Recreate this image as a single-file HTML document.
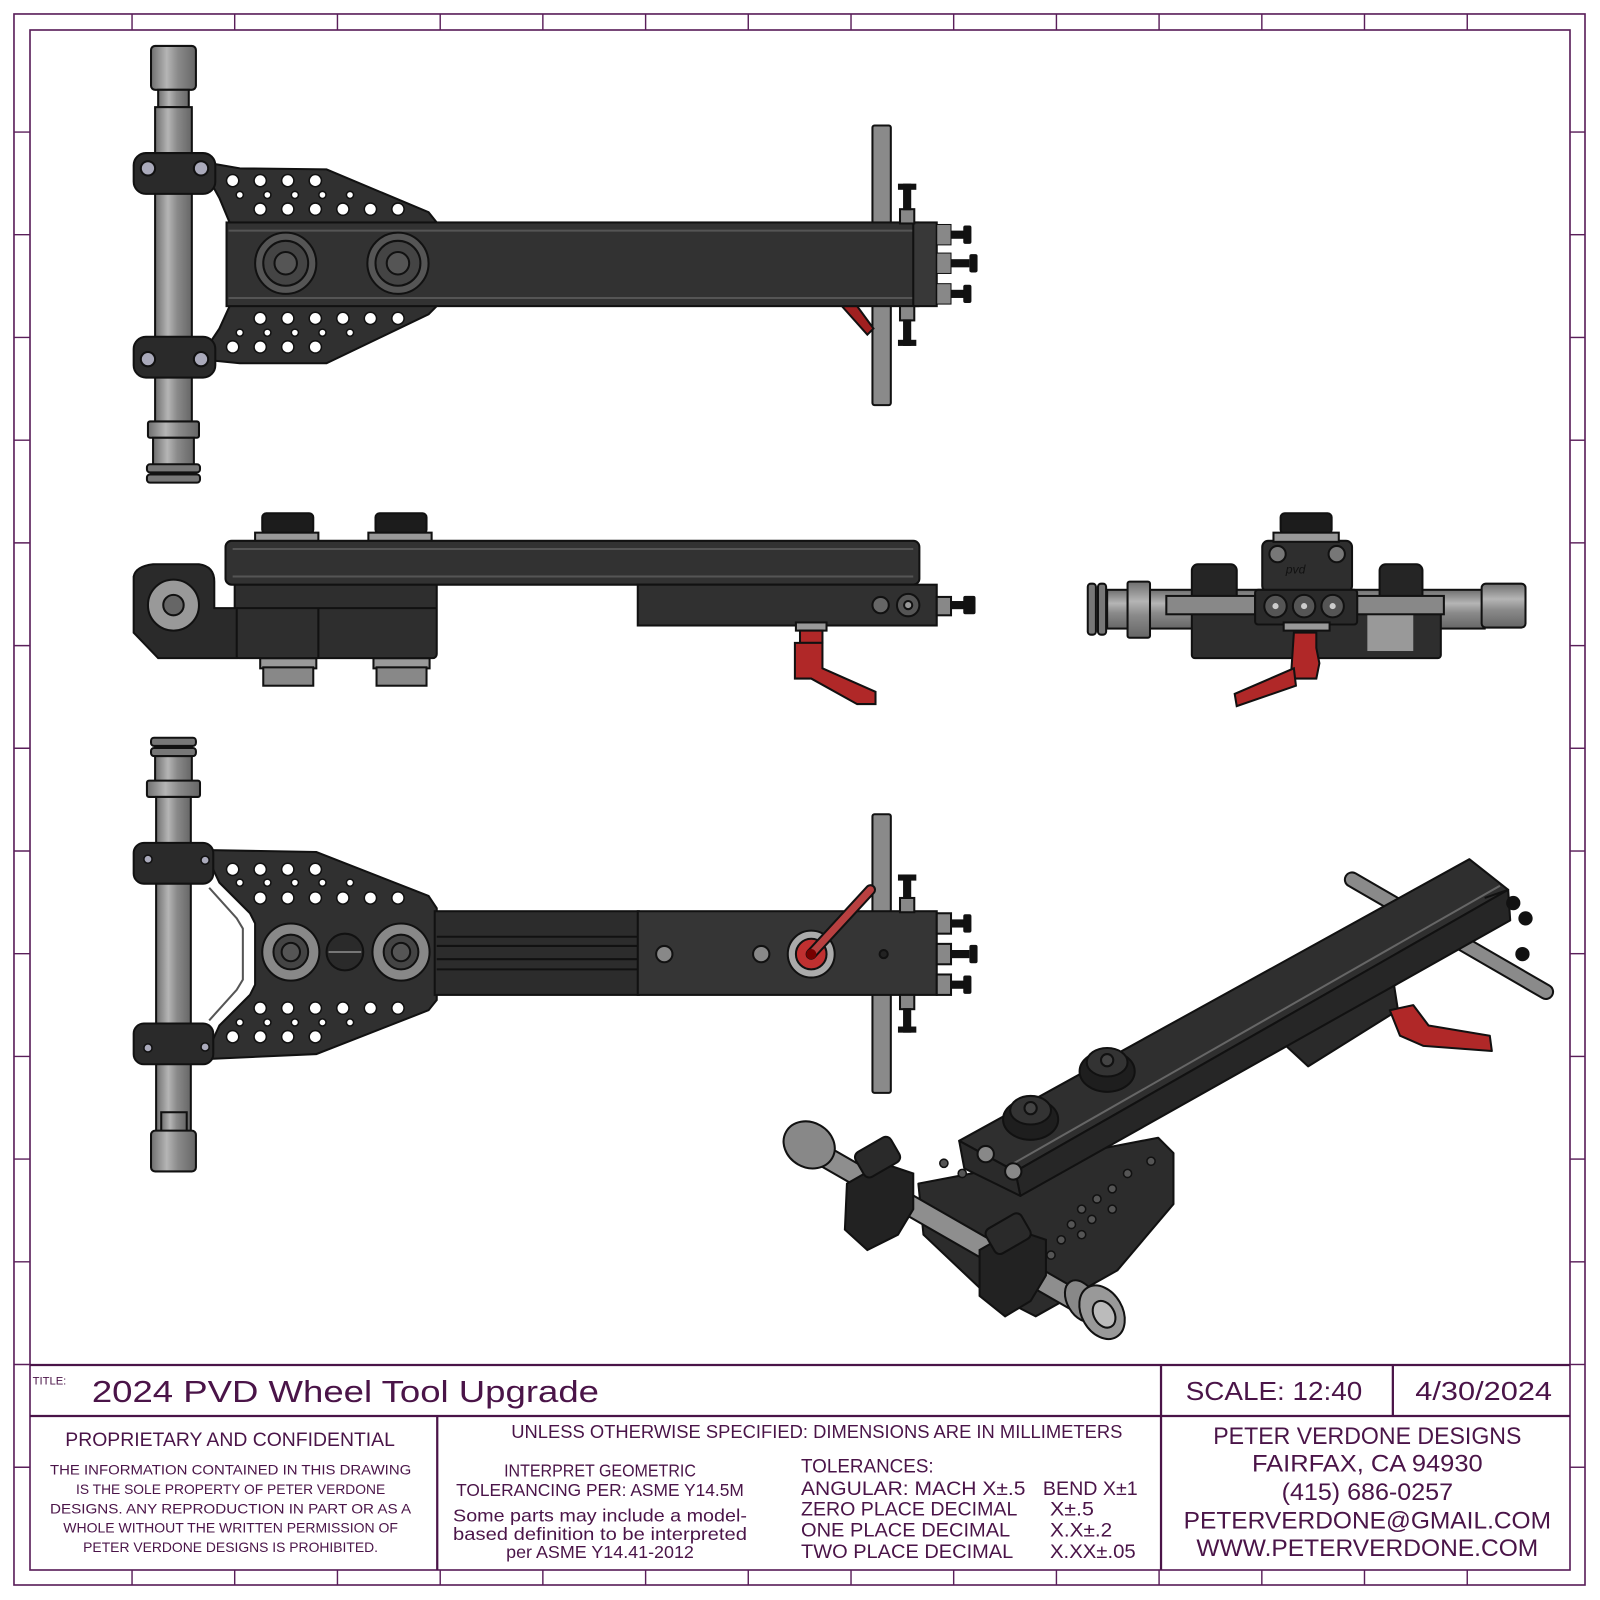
<!DOCTYPE html>
<html><head><meta charset="utf-8"><style>
html,body{margin:0;padding:0;background:#fff}
svg{display:block}
text{font-family:"Liberation Sans","DejaVu Sans",sans-serif;fill:#4a1448}
</style></head><body>
<svg width="1600" height="1600" viewBox="0 0 1568 1568" xmlns="http://www.w3.org/2000/svg">
<defs>
<linearGradient id="rodv" x1="0" x2="1" y1="0" y2="0"><stop offset="0" stop-color="#6e6e6e"/><stop offset=".35" stop-color="#b5b5b5"/><stop offset=".6" stop-color="#8a8a8a"/><stop offset="1" stop-color="#666"/></linearGradient>
<linearGradient id="rodh" x1="0" x2="0" y1="0" y2="1"><stop offset="0" stop-color="#6e6e6e"/><stop offset=".35" stop-color="#b5b5b5"/><stop offset=".6" stop-color="#8a8a8a"/><stop offset="1" stop-color="#666"/></linearGradient>
</defs>
<!-- border -->
<g stroke="#5a1f5a" stroke-width="1.6" fill="none">
<rect x="13.7" y="13.7" width="1539.6" height="1539.6"/>
<rect x="29.4" y="29.4" width="1509.2" height="1509.2"/>
</g>
<g stroke="#5a1f5a" stroke-width="1.4">
<line x1="129.4" y1="13.7" x2="129.4" y2="29.4"/><line x1="230" y1="13.7" x2="230" y2="29.4"/><line x1="330.7" y1="13.7" x2="330.7" y2="29.4"/><line x1="431.4" y1="13.7" x2="431.4" y2="29.4"/><line x1="532" y1="13.7" x2="532" y2="29.4"/><line x1="632.7" y1="13.7" x2="632.7" y2="29.4"/><line x1="733.3" y1="13.7" x2="733.3" y2="29.4"/><line x1="834" y1="13.7" x2="834" y2="29.4"/><line x1="934.6" y1="13.7" x2="934.6" y2="29.4"/><line x1="1035.3" y1="13.7" x2="1035.3" y2="29.4"/><line x1="1135.9" y1="13.7" x2="1135.9" y2="29.4"/><line x1="1236.6" y1="13.7" x2="1236.6" y2="29.4"/><line x1="1337.2" y1="13.7" x2="1337.2" y2="29.4"/><line x1="1437.9" y1="13.7" x2="1437.9" y2="29.4"/>
<line x1="129.4" y1="1538.6" x2="129.4" y2="1553.3"/><line x1="230" y1="1538.6" x2="230" y2="1553.3"/><line x1="330.7" y1="1538.6" x2="330.7" y2="1553.3"/><line x1="431.4" y1="1538.6" x2="431.4" y2="1553.3"/><line x1="532" y1="1538.6" x2="532" y2="1553.3"/><line x1="632.7" y1="1538.6" x2="632.7" y2="1553.3"/><line x1="733.3" y1="1538.6" x2="733.3" y2="1553.3"/><line x1="834" y1="1538.6" x2="834" y2="1553.3"/><line x1="934.6" y1="1538.6" x2="934.6" y2="1553.3"/><line x1="1035.3" y1="1538.6" x2="1035.3" y2="1553.3"/><line x1="1135.9" y1="1538.6" x2="1135.9" y2="1553.3"/><line x1="1236.6" y1="1538.6" x2="1236.6" y2="1553.3"/><line x1="1337.2" y1="1538.6" x2="1337.2" y2="1553.3"/><line x1="1437.9" y1="1538.6" x2="1437.9" y2="1553.3"/>
<line y1="129.4" x1="13.7" y2="129.4" x2="29.4"/><line y1="230" x1="13.7" y2="230" x2="29.4"/><line y1="330.7" x1="13.7" y2="330.7" x2="29.4"/><line y1="431.4" x1="13.7" y2="431.4" x2="29.4"/><line y1="532" x1="13.7" y2="532" x2="29.4"/><line y1="632.7" x1="13.7" y2="632.7" x2="29.4"/><line y1="733.3" x1="13.7" y2="733.3" x2="29.4"/><line y1="834" x1="13.7" y2="834" x2="29.4"/><line y1="934.6" x1="13.7" y2="934.6" x2="29.4"/><line y1="1035.3" x1="13.7" y2="1035.3" x2="29.4"/><line y1="1135.9" x1="13.7" y2="1135.9" x2="29.4"/><line y1="1236.6" x1="13.7" y2="1236.6" x2="29.4"/><line y1="1337.2" x1="13.7" y2="1337.2" x2="29.4"/><line y1="1437.9" x1="13.7" y2="1437.9" x2="29.4"/>
<line y1="129.4" x1="1538.6" y2="129.4" x2="1553.3"/><line y1="230" x1="1538.6" y2="230" x2="1553.3"/><line y1="330.7" x1="1538.6" y2="330.7" x2="1553.3"/><line y1="431.4" x1="1538.6" y2="431.4" x2="1553.3"/><line y1="532" x1="1538.6" y2="532" x2="1553.3"/><line y1="632.7" x1="1538.6" y2="632.7" x2="1553.3"/><line y1="733.3" x1="1538.6" y2="733.3" x2="1553.3"/><line y1="834" x1="1538.6" y2="834" x2="1553.3"/><line y1="934.6" x1="1538.6" y2="934.6" x2="1553.3"/><line y1="1035.3" x1="1538.6" y2="1035.3" x2="1553.3"/><line y1="1135.9" x1="1538.6" y2="1135.9" x2="1553.3"/><line y1="1236.6" x1="1538.6" y2="1236.6" x2="1553.3"/><line y1="1337.2" x1="1538.6" y2="1337.2" x2="1553.3"/><line y1="1437.9" x1="1538.6" y2="1437.9" x2="1553.3"/>
</g>
<!-- title block -->
<g stroke="#4a1448" stroke-width="2.2">
<line x1="29.4" y1="1337.7" x2="1538.6" y2="1337.7"/>
<line x1="29.4" y1="1387.7" x2="1538.6" y2="1387.7"/>
<line x1="428.5" y1="1387.7" x2="428.5" y2="1538.6"/>
<line x1="1137.8" y1="1337.7" x2="1137.8" y2="1538.6"/>
<line x1="1365" y1="1337.7" x2="1365" y2="1387.7"/>
</g>
<text x="32" y="1357" font-size="11">TITLE:</text>
<text x="90" y="1374" font-size="30" textLength="497" lengthAdjust="spacingAndGlyphs">2024 PVD Wheel Tool Upgrade</text>
<text x="1162" y="1372" font-size="25" textLength="173" lengthAdjust="spacingAndGlyphs">SCALE: 12:40</text>
<text x="1387" y="1372" font-size="25" textLength="134" lengthAdjust="spacingAndGlyphs">4/30/2024</text>
<text x="64" y="1417" font-size="19" textLength="323" lengthAdjust="spacingAndGlyphs">PROPRIETARY AND CONFIDENTIAL</text>
<g font-size="14" text-anchor="middle">
<text x="226" y="1445" textLength="354" lengthAdjust="spacingAndGlyphs">THE INFORMATION CONTAINED IN THIS DRAWING</text>
<text x="226" y="1464" textLength="303" lengthAdjust="spacingAndGlyphs">IS THE SOLE PROPERTY OF PETER VERDONE</text>
<text x="226" y="1483" textLength="354" lengthAdjust="spacingAndGlyphs">DESIGNS.  ANY  REPRODUCTION IN PART OR AS A</text>
<text x="226" y="1502" textLength="328" lengthAdjust="spacingAndGlyphs">WHOLE WITHOUT THE WRITTEN PERMISSION OF</text>
<text x="226" y="1521" textLength="289" lengthAdjust="spacingAndGlyphs">PETER VERDONE DESIGNS IS PROHIBITED.</text>
</g>
<text x="501" y="1409" font-size="18" textLength="599" lengthAdjust="spacingAndGlyphs">UNLESS OTHERWISE SPECIFIED: DIMENSIONS ARE IN MILLIMETERS</text>
<g font-size="17" text-anchor="middle">
<text x="588" y="1447" textLength="188" lengthAdjust="spacingAndGlyphs">INTERPRET GEOMETRIC</text>
<text x="588" y="1466" textLength="282" lengthAdjust="spacingAndGlyphs">TOLERANCING PER: ASME Y14.5M</text>
<text x="588" y="1491" textLength="288" lengthAdjust="spacingAndGlyphs">Some parts may include a model-</text>
<text x="588" y="1509" textLength="288" lengthAdjust="spacingAndGlyphs">based definition to be interpreted</text>
<text x="588" y="1527" textLength="184" lengthAdjust="spacingAndGlyphs">per ASME Y14.41-2012</text>
</g>
<g font-size="19">
<text x="785" y="1443" textLength="130" lengthAdjust="spacingAndGlyphs">TOLERANCES:</text>
<text x="785" y="1465" textLength="220" lengthAdjust="spacingAndGlyphs">ANGULAR: MACH X±.5</text>
<text x="1022" y="1465" textLength="93" lengthAdjust="spacingAndGlyphs">BEND X±1</text>
<text x="785" y="1485" textLength="212" lengthAdjust="spacingAndGlyphs">ZERO PLACE DECIMAL</text>
<text x="1029" y="1485" textLength="43" lengthAdjust="spacingAndGlyphs">X±.5</text>
<text x="785" y="1506" textLength="205" lengthAdjust="spacingAndGlyphs">ONE PLACE DECIMAL</text>
<text x="1029" y="1506" textLength="61" lengthAdjust="spacingAndGlyphs">X.X±.2</text>
<text x="785" y="1527" textLength="208" lengthAdjust="spacingAndGlyphs">TWO PLACE DECIMAL</text>
<text x="1029" y="1527" textLength="84" lengthAdjust="spacingAndGlyphs">X.XX±.05</text>
</g>
<g font-size="24" text-anchor="middle">
<text x="1340" y="1415" textLength="302" lengthAdjust="spacingAndGlyphs">PETER VERDONE DESIGNS</text>
<text x="1340" y="1442" textLength="226" lengthAdjust="spacingAndGlyphs">FAIRFAX, CA 94930</text>
<text x="1340" y="1470" textLength="168" lengthAdjust="spacingAndGlyphs">(415) 686-0257</text>
<text x="1340" y="1498" textLength="360" lengthAdjust="spacingAndGlyphs">PETERVERDONE@GMAIL.COM</text>
<text x="1340" y="1525" textLength="335" lengthAdjust="spacingAndGlyphs">WWW.PETERVERDONE.COM</text>
</g>

<!-- ===== TOP VIEW ===== -->
<g stroke="#111" stroke-width="2">
<rect x="148" y="45" width="44" height="43" rx="4" fill="url(#rodv)"/>
<rect x="155" y="88" width="30" height="17" fill="url(#rodv)"/>
<rect x="152" y="105" width="36" height="310" fill="url(#rodv)"/>
<rect x="145" y="413" width="50" height="16" rx="2" fill="url(#rodv)"/>
<rect x="150" y="429" width="40" height="28" fill="url(#rodv)"/>
<rect x="144" y="455" width="52" height="8" rx="3" fill="#777"/>
<rect x="144" y="465" width="52" height="8" rx="3" fill="#777"/>
<rect x="855" y="123" width="18" height="274" rx="2" fill="#8a8a8a"/>
<path d="M825,300 L850,328 L856,322 L840,300Z" fill="#a02020"/>
<path d="M195,158 L235,165 L320,166 L420,208 L428,218 L428,300 L420,308 L320,356 L235,356 L195,352 L215,322 L225,300 L225,218 L215,194Z" fill="#303030"/>
<rect x="131" y="150" width="80" height="40" rx="12" fill="#2a2a2a"/>
<rect x="131" y="330" width="80" height="40" rx="12" fill="#2a2a2a"/>
<rect x="222" y="218" width="678" height="82" fill="#323232"/>
<line x1="224" y1="226" x2="898" y2="226" stroke="#555"/><line x1="224" y1="292" x2="898" y2="292" stroke="#555"/>
<rect x="895" y="218" width="23" height="82" fill="#383838"/>
<rect x="882" y="205" width="14" height="14" fill="#888"/><rect x="882" y="300" width="14" height="14" fill="#888"/>
</g>
<g fill="#111"><rect x="885" y="180" width="8" height="26"/><rect x="880" y="180" width="18" height="6"/><rect x="885" y="313" width="8" height="26"/><rect x="880" y="333" width="18" height="6"/>
<rect x="918" y="220" width="14" height="20" fill="#888" stroke="#111"/><rect x="918" y="248" width="14" height="20" fill="#888" stroke="#111"/><rect x="918" y="278" width="14" height="20" fill="#888" stroke="#111"/>
<rect x="932" y="226" width="14" height="8"/><rect x="944" y="221" width="8" height="18" rx="2"/>
<rect x="932" y="254" width="18" height="8"/><rect x="950" y="249" width="8" height="18" rx="2"/>
<rect x="932" y="284" width="14" height="8"/><rect x="944" y="279" width="8" height="18" rx="2"/>
</g>
<g fill="#aab" stroke="#111" stroke-width="2"><circle cx="145" cy="165" r="7"/><circle cx="197" cy="165" r="7"/><circle cx="145" cy="352" r="7"/><circle cx="197" cy="352" r="7"/></g>
<g fill="#555" stroke="#111" stroke-width="2">
<circle cx="280" cy="258" r="30"/><circle cx="280" cy="258" r="22" fill="#444"/><circle cx="280" cy="258" r="11" fill="#555"/>
<circle cx="390" cy="258" r="30"/><circle cx="390" cy="258" r="22" fill="#444"/><circle cx="390" cy="258" r="11" fill="#555"/>
</g>
<g fill="#fff" stroke="#111" stroke-width="1.5">
<circle cx="228" cy="177" r="6"/><circle cx="255" cy="177" r="6"/><circle cx="282" cy="177" r="6"/><circle cx="309" cy="177" r="6"/>
<circle cx="235" cy="191" r="3.5"/><circle cx="262" cy="191" r="3.5"/><circle cx="289" cy="191" r="3.5"/><circle cx="316" cy="191" r="3.5"/><circle cx="343" cy="191" r="3.5"/>
<circle cx="255" cy="205" r="6"/><circle cx="282" cy="205" r="6"/><circle cx="309" cy="205" r="6"/><circle cx="336" cy="205" r="6"/><circle cx="363" cy="205" r="6"/><circle cx="390" cy="205" r="6"/>
<circle cx="255" cy="312" r="6"/><circle cx="282" cy="312" r="6"/><circle cx="309" cy="312" r="6"/><circle cx="336" cy="312" r="6"/><circle cx="363" cy="312" r="6"/><circle cx="390" cy="312" r="6"/>
<circle cx="235" cy="326" r="3.5"/><circle cx="262" cy="326" r="3.5"/><circle cx="289" cy="326" r="3.5"/><circle cx="316" cy="326" r="3.5"/><circle cx="343" cy="326" r="3.5"/>
<circle cx="228" cy="340" r="6"/><circle cx="255" cy="340" r="6"/><circle cx="282" cy="340" r="6"/><circle cx="309" cy="340" r="6"/>
</g>

<!-- ===== SIDE VIEW ===== -->
<g stroke="#111" stroke-width="2">
<rect x="257" y="503" width="50" height="20" rx="4" fill="#1c1c1c"/><rect x="250" y="522" width="62" height="9" fill="#999"/>
<rect x="368" y="503" width="50" height="20" rx="4" fill="#1c1c1c"/><rect x="361" y="522" width="62" height="9" fill="#999"/>
<rect x="255" y="645" width="55" height="10" fill="#999"/><rect x="258" y="654" width="49" height="18" fill="#888"/>
<rect x="366" y="645" width="55" height="10" fill="#999"/><rect x="369" y="654" width="49" height="18" fill="#888"/>
<rect x="230" y="570" width="198" height="75" rx="4" fill="#2e2e2e"/>
<line x1="232" y1="596" x2="428" y2="596"/><line x1="312" y1="596" x2="312" y2="645"/>
<rect x="221" y="530" width="680" height="43" rx="6" fill="#323232"/>
<line x1="228" y1="538" x2="895" y2="538" stroke="#555"/><line x1="228" y1="565" x2="895" y2="565" stroke="#555"/>
<rect x="625" y="573" width="293" height="40" fill="#303030"/>
<circle cx="863" cy="593" r="8" fill="#666"/><circle cx="890" cy="593" r="11" fill="#555"/><circle cx="890" cy="593" r="4" fill="#999"/>
<rect x="918" y="585" width="14" height="18" fill="#888"/>
<path d="M131,565 Q133,555 150,553 L195,553 Q210,555 210,570 L210,596 L232,596 L232,645 L155,645 L131,620Z" fill="#2a2a2a"/>
<circle cx="170" cy="593" r="25" fill="#999"/><circle cx="170" cy="593" r="10" fill="#666"/>
<rect x="780" y="610" width="30" height="8" fill="#999"/>
<rect x="784" y="618" width="22" height="12" fill="#b02828"/>
<path d="M779,630 L806,630 L806,655 L858,678 L858,690 L840,690 L795,665 L779,665Z" fill="#b02828"/>
</g>
<g fill="#111"><rect x="932" y="589" width="14" height="8"/><rect x="944" y="584" width="12" height="18" rx="2"/></g>

<!-- ===== END VIEW ===== -->
<g stroke="#111" stroke-width="2">
<rect x="1085" y="578" width="370" height="38" fill="url(#rodh)"/>
<rect x="1066" y="572" width="8" height="50" rx="3" fill="#777"/><rect x="1076" y="572" width="8" height="50" rx="3" fill="#777"/>
<rect x="1105" y="570" width="22" height="55" rx="2" fill="url(#rodh)"/>
<rect x="1452" y="572" width="43" height="43" rx="4" fill="url(#rodh)"/>
<rect x="1168" y="598" width="244" height="47" rx="3" fill="#2e2e2e"/>
<rect x="1168" y="553" width="44" height="47" rx="6" fill="#252525"/><rect x="1352" y="553" width="42" height="47" rx="6" fill="#252525"/>
<rect x="1143" y="584" width="87" height="18" fill="#888"/><rect x="1330" y="584" width="85" height="18" fill="#888"/>
<rect x="1237" y="530" width="88" height="50" rx="6" fill="#2e2e2e"/>
<rect x="1255" y="503" width="50" height="20" rx="4" fill="#1c1c1c"/><rect x="1248" y="522" width="64" height="9" fill="#999"/>
<circle cx="1252" cy="543" r="8" fill="#777"/><circle cx="1310" cy="543" r="8" fill="#777"/>
<rect x="1230" y="578" width="100" height="34" rx="3" fill="#2a2a2a"/>
<circle cx="1250" cy="594" r="11" fill="#555"/><circle cx="1278" cy="594" r="11" fill="#555"/><circle cx="1306" cy="594" r="11" fill="#555"/>
<rect x="1340" y="603" width="45" height="35" fill="#999" stroke="none"/>
<rect x="1258" y="610" width="45" height="8" fill="#999"/>
<path d="M1268,620 L1290,620 L1290,635 L1293,650 L1290,665 L1265,665 Z" fill="#b02828"/>
<path d="M1268,655 L1210,680 L1212,692 L1270,672Z" fill="#b02828"/>
</g>
<g fill="#ccc"><circle cx="1250" cy="594" r="3"/><circle cx="1278" cy="594" r="3"/><circle cx="1306" cy="594" r="3"/></g>
<text x="1260" y="562" font-size="12" style="fill:#111" font-style="italic">pvd</text>

<!-- ===== BOTTOM VIEW ===== -->
<g stroke="#111" stroke-width="2">
<rect x="148" y="723" width="44" height="8" rx="3" fill="#777"/><rect x="148" y="733" width="44" height="8" rx="3" fill="#777"/>
<rect x="152" y="741" width="36" height="25" fill="url(#rodv)"/>
<rect x="144" y="765" width="52" height="16" rx="2" fill="url(#rodv)"/>
<rect x="153" y="781" width="34" height="330" fill="url(#rodv)"/>
<rect x="158" y="1090" width="25" height="20" fill="url(#rodv)"/>
<rect x="148" y="1108" width="44" height="40" rx="4" fill="url(#rodv)"/>
<rect x="855" y="798" width="18" height="273" rx="2" fill="#8a8a8a"/>
<path d="M200,833 L310,835 L420,878 L428,890 L428,980 L420,990 L310,1033 L200,1038 L215,1005 L245,975 L250,965 L250,905 L245,895 L215,865Z" fill="#303030"/>
<path d="M205,870 L232,900 L238,910 L238,960 L232,970 L205,1000" fill="none" stroke="#555"/>
<rect x="131" y="826" width="78" height="40" rx="10" fill="#2a2a2a"/>
<rect x="131" y="1003" width="78" height="40" rx="10" fill="#2a2a2a"/>
<rect x="426" y="893" width="200" height="82" fill="#2c2c2c"/>
<line x1="428" y1="918" x2="626" y2="918"/><line x1="428" y1="927" x2="626" y2="927"/><line x1="428" y1="940" x2="626" y2="940"/><line x1="428" y1="950" x2="626" y2="950"/>
<rect x="625" y="893" width="293" height="82" fill="#353535"/>
<rect x="918" y="895" width="14" height="20" fill="#888"/><rect x="918" y="925" width="14" height="20" fill="#888"/><rect x="918" y="955" width="14" height="20" fill="#888"/>
<rect x="882" y="880" width="14" height="14" fill="#888"/><rect x="882" y="975" width="14" height="14" fill="#888"/>
<circle cx="285" cy="933" r="28" fill="#888"/><circle cx="285" cy="933" r="17" fill="#444"/><circle cx="285" cy="933" r="9" fill="#555"/>
<circle cx="393" cy="933" r="28" fill="#888"/><circle cx="393" cy="933" r="17" fill="#444"/><circle cx="393" cy="933" r="9" fill="#555"/>
<circle cx="338" cy="933" r="18" fill="#2a2a2a"/><line x1="322" y1="933" x2="354" y2="933" stroke="#777"/>
<circle cx="651" cy="935" r="8" fill="#888"/><circle cx="746" cy="935" r="8" fill="#888"/><circle cx="866" cy="935" r="4" fill="#222"/>
<circle cx="795" cy="935" r="23" fill="#aaa"/><circle cx="795" cy="935" r="15" fill="#c03030"/>
</g>
<line x1="795" y1="935" x2="853" y2="872" stroke="#111" stroke-width="11" stroke-linecap="round"/>
<line x1="795" y1="935" x2="853" y2="872" stroke="#b84040" stroke-width="7" stroke-linecap="round"/>
<circle cx="795" cy="935" r="5" fill="#700"/>
<g fill="#111"><rect x="885" y="857" width="8" height="24"/><rect x="880" y="857" width="18" height="6"/><rect x="885" y="988" width="8" height="24"/><rect x="880" y="1006" width="18" height="6"/>
<rect x="932" y="901" width="14" height="8"/><rect x="944" y="896" width="8" height="18" rx="2"/>
<rect x="932" y="931" width="18" height="8"/><rect x="950" y="926" width="8" height="18" rx="2"/>
<rect x="932" y="961" width="14" height="8"/><rect x="944" y="956" width="8" height="18" rx="2"/></g>
<g fill="#aab" stroke="#111" stroke-width="1.5"><circle cx="145" cy="842" r="4"/><circle cx="201" cy="843" r="4"/><circle cx="145" cy="1027" r="4"/><circle cx="201" cy="1026" r="4"/></g>
<g fill="#fff" stroke="#111" stroke-width="1.5">
<circle cx="228" cy="852" r="6"/><circle cx="255" cy="852" r="6"/><circle cx="282" cy="852" r="6"/><circle cx="309" cy="852" r="6"/>
<circle cx="235" cy="865" r="3.5"/><circle cx="262" cy="865" r="3.5"/><circle cx="289" cy="865" r="3.5"/><circle cx="316" cy="865" r="3.5"/><circle cx="343" cy="865" r="3.5"/>
<circle cx="255" cy="880" r="6"/><circle cx="282" cy="880" r="6"/><circle cx="309" cy="880" r="6"/><circle cx="336" cy="880" r="6"/><circle cx="363" cy="880" r="6"/><circle cx="390" cy="880" r="6"/>
<circle cx="255" cy="988" r="6"/><circle cx="282" cy="988" r="6"/><circle cx="309" cy="988" r="6"/><circle cx="336" cy="988" r="6"/><circle cx="363" cy="988" r="6"/><circle cx="390" cy="988" r="6"/>
<circle cx="235" cy="1002" r="3.5"/><circle cx="262" cy="1002" r="3.5"/><circle cx="289" cy="1002" r="3.5"/><circle cx="316" cy="1002" r="3.5"/><circle cx="343" cy="1002" r="3.5"/>
<circle cx="228" cy="1016" r="6"/><circle cx="255" cy="1016" r="6"/><circle cx="282" cy="1016" r="6"/><circle cx="309" cy="1016" r="6"/>
</g>

<!-- ===== ISO VIEW ===== -->
<g stroke="#111" stroke-width="2" stroke-linejoin="round">
<line x1="1325" y1="862" x2="1515" y2="972" stroke="#111" stroke-width="16" stroke-linecap="round"/>
<line x1="1325" y1="862" x2="1515" y2="972" stroke="#8a8a8a" stroke-width="12" stroke-linecap="round"/>
<path d="M1255,1020 L1365,958 L1370,990 L1282,1045Z" fill="#2a2a2a"/>
<path d="M1362,990 L1385,985 L1400,1005 L1460,1015 L1462,1030 L1395,1025 L1372,1015Z" fill="#b02828"/>
<path d="M900,1160 L1135,1115 L1150,1130 L1150,1180 L1095,1245 L1015,1290 L960,1262 L905,1210Z" fill="#2c2c2c"/>
<path d="M940,1118 L1440,842 L1478,872 L995,1148Z" fill="#2f2f2f"/>
<path d="M995,1148 L1478,872 L1480,902 L1000,1172Z" fill="#262626"/>
<path d="M940,1118 L995,1148 L1000,1172 L945,1145Z" fill="#2a2a2a"/>
<line x1="990" y1="1142" x2="1470" y2="868" stroke="#666"/>
<ellipse cx="1010" cy="1097" rx="27" ry="20" fill="#1e1e1e"/><ellipse cx="1010" cy="1088" rx="20" ry="14" fill="#333"/><circle cx="1010" cy="1086" r="6" fill="#444"/>
<ellipse cx="1085" cy="1050" rx="27" ry="20" fill="#1e1e1e"/><ellipse cx="1085" cy="1041" rx="20" ry="14" fill="#333"/><circle cx="1085" cy="1039" r="6" fill="#444"/>
<circle cx="966" cy="1131" r="8" fill="#888"/><circle cx="993" cy="1148" r="8" fill="#888"/>
</g>
<g stroke="#111" stroke-width="1.5" fill="#555">
<circle cx="1060" cy="1185" r="4"/><circle cx="1075" cy="1175" r="4"/><circle cx="1090" cy="1165" r="4"/><circle cx="1105" cy="1150" r="4"/><circle cx="1050" cy="1200" r="4"/><circle cx="1070" cy="1195" r="4"/><circle cx="1090" cy="1185" r="4"/><circle cx="1040" cy="1215" r="4"/><circle cx="1060" cy="1210" r="4"/><circle cx="1030" cy="1230" r="4"/><circle cx="1128" cy="1138" r="4"/><circle cx="925" cy="1140" r="4"/><circle cx="943" cy="1150" r="4"/>
</g>
<g stroke="#111" stroke-width="2">
<line x1="785" y1="1120" x2="1090" y2="1295" stroke="#111" stroke-width="22" stroke-linecap="round"/>
<line x1="785" y1="1120" x2="1090" y2="1295" stroke="#8e8e8e" stroke-width="18" stroke-linecap="round"/>
<ellipse cx="793" cy="1122" rx="26" ry="22" transform="rotate(30 793 1122)" fill="#888"/>
<path d="M830,1160 L865,1140 L895,1150 L895,1185 L880,1210 L850,1225 L828,1205Z" fill="#222"/>
<path d="M960,1225 L995,1205 L1025,1215 L1025,1250 L1010,1275 L985,1290 L960,1270Z" fill="#222"/>
<rect x="840" y="1120" width="40" height="28" rx="6" transform="rotate(-30 860 1134)" fill="#2a2a2a"/>
<rect x="968" y="1195" width="40" height="28" rx="6" transform="rotate(-30 988 1209)" fill="#2a2a2a"/>
<ellipse cx="1060" cy="1275" rx="14" ry="22" transform="rotate(-30 1060 1275)" fill="#888"/>
<ellipse cx="1080" cy="1286" rx="20" ry="28" transform="rotate(-30 1080 1286)" fill="#999"/>
<ellipse cx="1082" cy="1288" rx="10" ry="14" transform="rotate(-30 1082 1288)" fill="#bbb"/>
</g>
<path d="M1455,880 L1478,872" stroke="#111" stroke-width="2"/>
<g fill="#111"><circle cx="1483" cy="885" r="7"/><circle cx="1495" cy="900" r="7"/><circle cx="1492" cy="935" r="7"/></g>
</svg>
</body></html>
